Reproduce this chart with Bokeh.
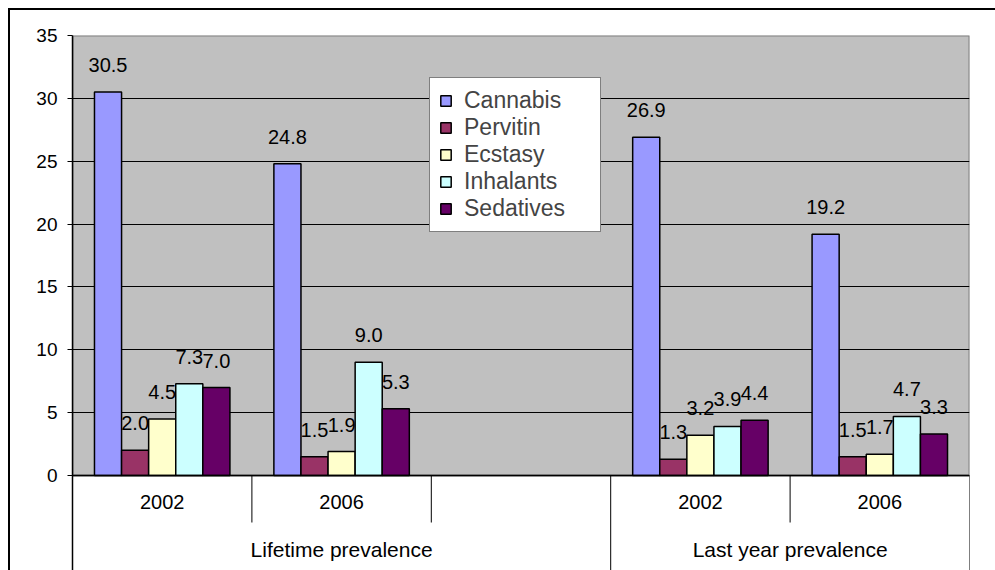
from bokeh.plotting import figure
from bokeh.models import FactorRange, ColumnDataSource, Legend, LegendItem, FixedTicker, BoxAnnotation
from bokeh.transform import dodge
from bokeh.core.properties import value
from bokeh.embed import file_html
from bokeh.resources import INLINE

# Survey periods and years (the blank slot separates the two periods)
periods = ["Lifetime prevalence", "Last year prevalence"]
years = ["2002", "2006"]
drugs = ["Cannabis", "Pervitin", "Ecstasy", "Inhalants", "Sedatives"]
colors = ["#9999FF", "#993366", "#FFFFCC", "#CCFFFF", "#660066"]

# Prevalence (%): Lifetime 2002, Lifetime 2006, Last year 2002, Last year 2006
cannabis = [30.5, 24.8, 26.9, 19.2]
pervitin = [2.0, 1.5, 1.3, 1.5]
ecstasy = [4.5, 1.9, 3.2, 1.7]
inhalants = [7.3, 9.0, 3.9, 4.7]
sedatives = [7.0, 5.3, 4.4, 3.3]

y_ticks = [0, 5, 10, 15, 20, 25, 30, 35]

FONT = "Liberation Sans"

# a thin spacer level between year and period gives the period row its own gap
gap = " "
x_keys = [(periods[0], gap, years[0]), (periods[0], gap, years[1]),
          (periods[1], gap, years[0]), (periods[1], gap, years[1])]
blank = (periods[0], gap, " ")
factors = [x_keys[0], x_keys[1], blank, x_keys[2], x_keys[3]]

series = dict(zip(drugs, [cannabis, pervitin, ecstasy, inhalants, sedatives]))
data = {"x": x_keys}
for d in drugs:
    data[d] = series[d]
    data[d + "_lbl"] = ["%.1f" % v for v in series[d]]
src = ColumnDataSource(data)

# plot area geometry (pixels): value area is 440 px tall, category band 95 px below it
value_px = 440
band_px = 95
px_per_unit = value_px / (y_ticks[-1] - y_ticks[0])
y_low = -band_px / px_per_unit

p = figure(
    x_range=FactorRange(*factors, group_padding=0, subgroup_padding=0,
                        factor_padding=0, range_padding=0),
    y_range=(y_low, y_ticks[-1]),
    width=985, height=560,
    output_backend="svg", toolbar_location=None,
    min_border_left=62, min_border_top=25, min_border_right=26, min_border_bottom=0,
)
p.margin = (10, 0, 0, 10)
p.styles = {"outline": "2px solid black"}

p.background_fill_color = "white"
p.border_fill_color = "white"
p.outline_line_color = None

# grey value area with its grey border
p.add_layout(BoxAnnotation(bottom=y_ticks[0], top=y_ticks[-1], level="image",
                           fill_color="#C0C0C0", fill_alpha=1,
                           line_color="#808080", line_width=2, line_alpha=1))

bar_w = 0.151
renderers = []
for i, d in enumerate(drugs):
    off = (i - 2) * bar_w
    r = p.vbar(x=dodge("x", off, range=p.x_range), top=d, width=bar_w, source=src,
               fill_color=colors[i], line_color="black", line_width=1.5)
    renderers.append(r)
    p.text(x=dodge("x", off, range=p.x_range), y=d, text=d + "_lbl", source=src,
           text_align="center", text_baseline="alphabetic", y_offset=-27,
           text_font=value(FONT), text_font_size="20px", text_color="black")

# category separators below the value axis
short_sep = ColumnDataSource({"x": [x_keys[0], x_keys[1], x_keys[2]]})
long_sep = ColumnDataSource({"x": [blank, x_keys[3]]})
sep_depth = 47 / px_per_unit
p.segment(x0=dodge("x", 0.5, range=p.x_range), x1=dodge("x", 0.5, range=p.x_range),
          y0=y_ticks[0], y1=-sep_depth, source=short_sep, line_color="black", line_width=1)
p.segment(x0=dodge("x", 0.5, range=p.x_range), x1=dodge("x", 0.5, range=p.x_range),
          y0=y_ticks[0], y1=y_low, source=long_sep, line_color="black", line_width=1)

# y axis
p.yaxis.ticker = FixedTicker(ticks=y_ticks)
p.yaxis.axis_line_color = "black"
p.yaxis.axis_line_width = 1.5
p.yaxis.major_tick_in = 0
p.yaxis.major_tick_out = 5
p.yaxis.minor_tick_line_color = None
p.yaxis.major_label_standoff = 10
p.yaxis.major_label_text_font = FONT
p.yaxis.major_label_text_font_size = "19px"
p.yaxis.major_label_text_color = "black"

p.ygrid.ticker = FixedTicker(ticks=y_ticks[:-1])
p.ygrid.grid_line_color = "black"
p.ygrid.grid_line_width = 1
p.xgrid.grid_line_color = None

# category axis drawn along the zero line
p.xaxis.fixed_location = 0
p.xaxis.axis_line_color = "black"
p.xaxis.axis_line_width = 1.5
p.xaxis.major_tick_line_color = None
p.xaxis.minor_tick_line_color = None
p.xaxis.separator_line_color = None
p.xaxis.major_label_text_font = FONT
p.xaxis.major_label_text_font_size = "20px"
p.xaxis.major_label_text_color = "black"
p.xaxis.major_label_standoff = 9
p.xaxis.subgroup_text_font = FONT
p.xaxis.subgroup_text_font_size = "1px"
p.xaxis.group_text_font = FONT
p.xaxis.group_text_font_size = "21px"
p.xaxis.group_text_font_style = "normal"
p.xaxis.group_text_color = "black"

legend = Legend(
    items=[LegendItem(label=d, renderers=[r]) for d, r in zip(drugs, renderers)],
    location=(357, 338),
    padding=9, margin=0, spacing=0,
    glyph_width=13, glyph_height=13, label_standoff=12, label_width=127,
    label_text_font=FONT, label_text_font_size="23px",
    border_line_color="black", border_line_width=1.5,
    background_fill_color="white", background_fill_alpha=1,
)
p.add_layout(legend, "center")

open("out.html", "w").write(file_html(p, INLINE))
